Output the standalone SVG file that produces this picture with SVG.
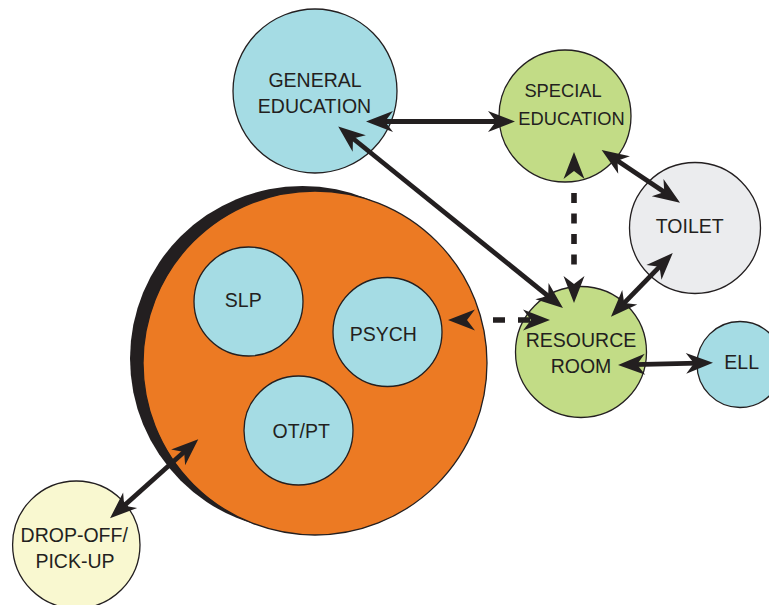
<svg xmlns="http://www.w3.org/2000/svg" width="769" height="605" viewBox="0 0 769 605">
<style>
.n{stroke:#231f20;stroke-width:1.3}
.blue{fill:#a5dce4}
.green{fill:#c2dc86}
.grey{fill:#ebecee}
.cream{fill:#f9f8d0}
.orange{fill:#ec7a23}
text{font-family:"Liberation Sans",Arial,sans-serif;font-size:19.5px;fill:#231f20;text-anchor:middle}
.c{stroke:#231f20;stroke-width:4.8;fill:none;marker-start:url(#ah);marker-end:url(#ah)}
.d{stroke-width:5.6}
</style>
<defs>
<marker id="ah" markerUnits="userSpaceOnUse" viewBox="-14 -14 32 28" markerWidth="32" markerHeight="28" refX="0" refY="0" orient="auto-start-reverse">
<path d="M15,0 L-12,-10.5 L-4,0 L-12,10.5 Z" fill="#231f20"/>
</marker>
</defs>
<rect width="769" height="605" fill="#ffffff"/>
<g id="therapies">
<circle cx="302.5" cy="358.5" r="172.5" fill="#231f20"/>
<circle class="n orange" cx="315" cy="363" r="172"/>
</g>
<g id="slp"><circle class="n blue" cx="248.5" cy="301.5" r="54.5"/><text x="243.3" y="306.7">SLP</text></g>
<g id="psych"><circle class="n blue" cx="387.5" cy="332" r="54.5"/><text x="383.3" y="341">PSYCH</text></g>
<g id="otpt"><circle class="n blue" cx="298.5" cy="430.5" r="54.5"/><text x="301.2" y="437.7">OT/PT</text></g>
<g id="general-education"><circle class="n blue" cx="315" cy="91" r="82"/><text x="315" y="87">GENERAL</text><text x="314.5" y="113">EDUCATION</text></g>
<g id="special-education"><circle class="n green" cx="565" cy="116" r="66"/><text x="563" y="97" style="font-size:18.3px">SPECIAL</text><text x="571.5" y="125" style="font-size:18.3px">EDUCATION</text></g>
<g id="toilet"><circle class="n grey" cx="695" cy="228" r="65.5"/><text x="689.7" y="233.3">TOILET</text></g>
<g id="resource-room"><circle class="n green" cx="581" cy="352" r="65.5"/><text x="581" y="346.7">RESOURCE</text><text x="581" y="373">ROOM</text></g>
<g id="ell"><circle class="n blue" cx="740" cy="364.5" r="43"/><text x="741.7" y="369">ELL</text></g>
<g id="drop-off"><circle class="n cream" cx="76.3" cy="544.7" r="63.7"/><text x="74.2" y="541.7">DROP-OFF/</text><text x="75" y="568.3">PICK-UP</text></g>
<g id="connectors">
<line class="c" x1="381" y1="121.5" x2="500" y2="121.5"/>
<line class="c" x1="349.9" y1="136" x2="551.3" y2="298.6"/>
<line class="c d" x1="574" y1="167" x2="574" y2="288" stroke-dasharray="0 26 10 10.5 10 10.5 10 10.5 10 100"/>
<line class="c d" x1="463" y1="320" x2="535" y2="320" stroke-dasharray="0 30 12 13 12 100"/>
<line class="c" x1="614.1" y1="158.4" x2="667.6" y2="194.3"/>
<line class="c" x1="662.3" y1="263.8" x2="621.4" y2="305.9"/>
<line class="c" x1="633" y1="364.6" x2="698" y2="363.1"/>
<line class="c" x1="121.2" y1="508.3" x2="187.1" y2="449.3"/>
</g>
</svg>
